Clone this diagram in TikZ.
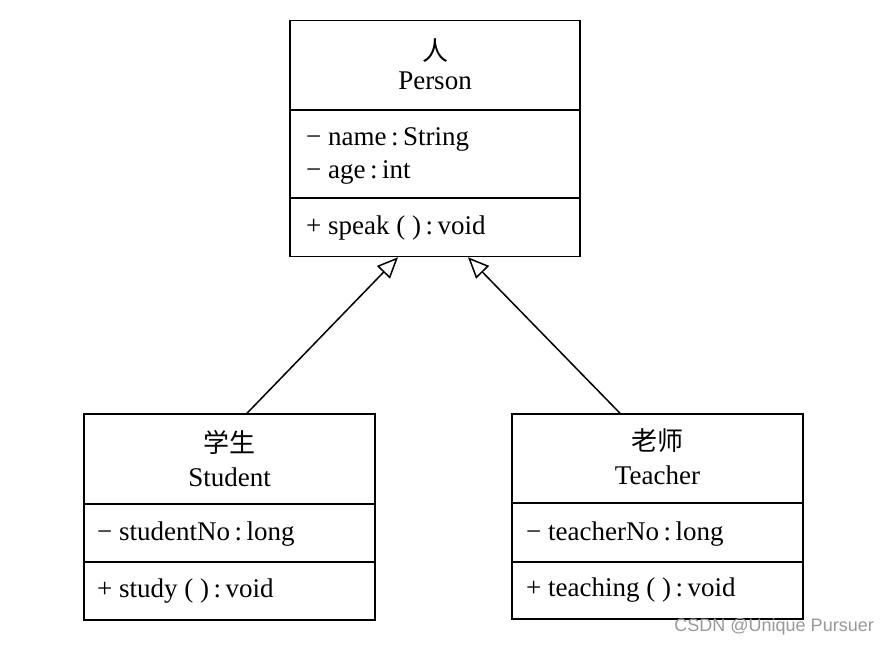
\documentclass[tikz,border=0pt]{standalone}
\usepackage{fontspec}
\setmainfont{Liberation Serif}
\newfontfamily\cjk{Noto Sans CJK SC}
\newfontfamily\wm{Liberation Sans}
\usetikzlibrary{arrows.meta}
\begin{document}
\begin{tikzpicture}[x={(1pt,0)},y={(0,-1pt)},
  cls/.style={draw,line width=1.5pt,inner sep=0pt},
  sep/.style={line width=1.5pt},
  txt/.style={font=\fontsize{27}{30}\selectfont,inner sep=0pt,anchor=west},
  ttl/.style={font=\fontsize{27}{30}\selectfont,inner sep=0pt},
  cn/.style={font=\cjk\fontsize{26}{29}\selectfont,inner sep=0pt},
  inh/.style={line width=1.5pt,-{Triangle[open,length=21pt,width=18pt,line width=1.5pt]}}]
\useasboundingbox[fill=white] (0,0) rectangle (890,647);
% Person
\node[cls,minimum width=290pt,minimum height=236pt] (person) at (435,138.5) {};
\draw[sep] (290,110) coordinate (p1) -- (580,110) coordinate (p2);
\draw[sep] (290,198) coordinate (p3) -- (580,198) coordinate (p4);
\node[cn] (pcn) at (435,51) {人};
\node[ttl] (pname) at (435,81) {Person};
\node[txt] (pa1) at (306,139) {− name\,:\,String};
\node[txt] (pa2) at (306,172) {− age\,:\,int};
\node[txt] (pm1) at (306,228) {+ speak ( )\,:\,void};
% Student
\node[cls,minimum width=291pt,minimum height=206pt] (student) at (229.5,517) {};
\draw[sep] (84,504) -- (375,504);
\draw[sep] (84,562) -- (375,562);
\node[cn] (scn) at (229.5,442) {学生};
\node[ttl] (sname) at (229.5,477) {Student};
\node[txt] (sa1) at (97,534) {− studentNo\,:\,long};
\node[txt] (sm1) at (97,591) {+ study ( )\,:\,void};
% Teacher
\node[cls,minimum width=291pt,minimum height=205pt] (teacher) at (657.5,516.5) {};
\draw[sep] (512,503) -- (803,503);
\draw[sep] (512,562) -- (803,562);
\node[cn] (tcn) at (657.5,441) {老师};
\node[ttl] (tname) at (657.5,475) {Teacher};
\node[txt] (ta1) at (526,534) {− teacherNo\,:\,long};
\node[txt] (tm1) at (526,590) {+ teaching ( )\,:\,void};
% inheritance
\draw[inh] ([xshift=17.5pt]student.north) -- ([xshift=-37pt]person.south);
\draw[inh] ([xshift=-37.5pt]teacher.north) -- ([xshift=33pt]person.south);
% watermark
\node[font=\wm\fontsize{18}{20}\selectfont,text=black!40,inner sep=0pt,anchor=east] (wmk) at (874,627) {CSDN @Unique Pursuer};
\end{tikzpicture}
\end{document}
